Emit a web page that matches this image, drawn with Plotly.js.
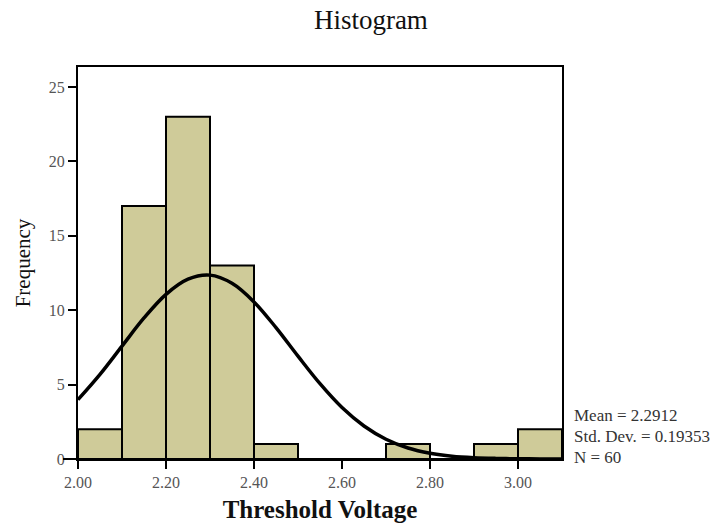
<!DOCTYPE html>
<html>
<head>
<meta charset="utf-8">
<script src="https://cdn.plot.ly/plotly-3.0.1.min.js"></script>
<style>html,body{margin:0;padding:0;background:#fff;}#chart{width:723px;height:527px;}</style>
</head>
<body>
<div id="chart"></div>
<script>
// Histogram bins (centers) and frequencies
const binCenters = [2.05, 2.15, 2.25, 2.35, 2.45, 2.55, 2.65, 2.75, 2.85, 2.95, 3.05];
const frequencies = [2, 17, 23, 13, 1, 0, 0, 1, 0, 1, 2];
// Normal curve
const curveX = [2.00, 2.05, 2.10, 2.15, 2.20, 2.25, 2.30, 2.35, 2.40, 2.45, 2.50, 2.55, 2.60, 2.65, 2.70, 2.75, 2.80, 2.85, 2.90, 2.95, 3.00, 3.05, 3.10];
const curveY = [3.99, 5.69, 7.59, 9.48, 11.07, 12.09, 12.36, 11.81, 10.56, 8.83, 6.91, 5.06, 3.46, 2.22, 1.33, 0.74, 0.39, 0.19, 0.09, 0.04, 0.015, 0.006, 0.002];
const xTickVals = [2.0, 2.2, 2.4, 2.6, 2.8, 3.0];
const xTickText = ['2.00', '2.20', '2.40', '2.60', '2.80', '3.00'];
const yTickVals = [0, 5, 10, 15, 20, 25];
const statLines = ['Mean = 2.2912', 'Std. Dev. = 0.19353', 'N = 60'];

const serif = 'Liberation Serif, Times New Roman, serif';

const traces = [
  {
    type: 'bar', x: binCenters, y: frequencies, width: 0.1,
    marker: {color: '#cfcb99', line: {color: '#000', width: 2}},
    hoverinfo: 'x+y'
  },
  {
    type: 'scatter', mode: 'lines', x: curveX, y: curveY,
    line: {color: '#000', width: 3.5, shape: 'spline'},
    cliponaxis: true
  }
];

const annotations = statLines.map((t, i) => ({
  text: t, xref: 'paper', yref: 'paper', x: 1.02, y: (459 - (415 + 21 * i)) / 392,
  xanchor: 'left', yanchor: 'middle', showarrow: false,
  font: {family: serif, size: 17, color: '#333'}
}));

const layout = {
  width: 723, height: 527,
  margin: {l: 78, r: 161, t: 67, b: 68},
  paper_bgcolor: '#fff', plot_bgcolor: '#fff',
  showlegend: false,
  bargap: 0,
  title: {text: 'Histogram', x: 0.513, xanchor: 'center', y: 0.962, yanchor: 'middle',
          font: {family: serif, size: 27, color: '#111'}},
  xaxis: {
    range: [2.0, 3.1], tickvals: xTickVals, ticktext: xTickText,
    showgrid: false, zeroline: false, showline: true, linecolor: '#000', linewidth: 2,
    mirror: true, ticks: 'outside', ticklen: 8, tickwidth: 2, tickcolor: '#000',
    tickfont: {family: serif, size: 16, color: '#555'},
    title: {text: '<b>Threshold Voltage</b>', standoff: 10, font: {family: serif, size: 25, color: '#111'}}
  },
  yaxis: {
    range: [0, 26.35], tickvals: yTickVals,
    showgrid: false, zeroline: false, showline: true, linecolor: '#000', linewidth: 2,
    mirror: true, ticks: 'outside', ticklen: 8, tickwidth: 2, tickcolor: '#000',
    tickfont: {family: serif, size: 16, color: '#555'},
    title: {text: 'Frequency', standoff: 12, font: {family: serif, size: 21, color: '#111'}}
  },
  annotations: annotations,
  shapes: [
    {type: 'line', xref: 'paper', yref: 'paper', x0: -0.031, x1: 0, y0: 0, y1: 0,
     line: {color: '#000', width: 2}}
  ]
};

Plotly.newPlot('chart', traces, layout, {displayModeBar: false, staticPlot: true});
</script>
</body>
</html>
